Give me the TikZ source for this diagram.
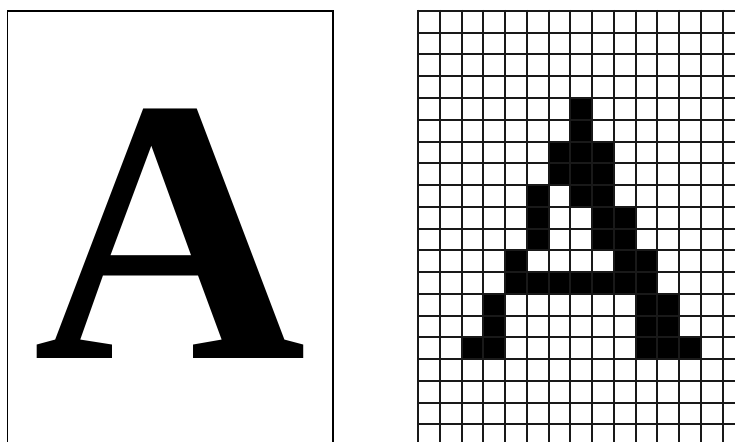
\documentclass[tikz,border=0pt]{standalone}
\usepackage{fontspec}
\newfontfamily\glyphfont{Liberation Serif}
\begin{document}
\begin{tikzpicture}[x=1pt,y=-1pt,
  gridline/.style={line width=2pt,draw=black!90},
  framebox/.style={line width=1.2pt,draw=black}]
\useasboundingbox (0,0) rectangle (735,441);
% left panel
\draw[framebox] (7.5,460) -- (7.5,11) -- (333,11) -- (333,460);
\node[anchor=base,inner sep=0pt,font=\glyphfont\bfseries\fontsize{378}{378}\selectfont] (letter) at (170,358) {A};
% right panel: filled pixels
\def\cs{21.75}
\foreach \c/\r in {7/4,7/5,6/6,7/6,8/6,6/7,7/7,8/7,5/8,7/8,8/8,5/9,8/9,9/9,5/10,8/10,9/10,4/11,9/11,10/11,4/12,5/12,6/12,7/12,8/12,9/12,10/12,3/13,10/13,11/13,3/14,10/14,11/14,2/15,3/15,10/15,11/15,12/15}
  \fill[black] ({418+\c*\cs},{11+\r*\cs}) rectangle ++(\cs,\cs);
% grid
\begin{scope}
\clip (410,0) rectangle (735,441);
\foreach \k in {0,...,14}
  \draw[gridline] ({418+\k*\cs},10) -- ({418+\k*\cs},445);
\foreach \k in {0,...,19}
  \draw[gridline] (417,{11+\k*\cs}) -- (740,{11+\k*\cs});
\end{scope}
\end{tikzpicture}
\end{document}
